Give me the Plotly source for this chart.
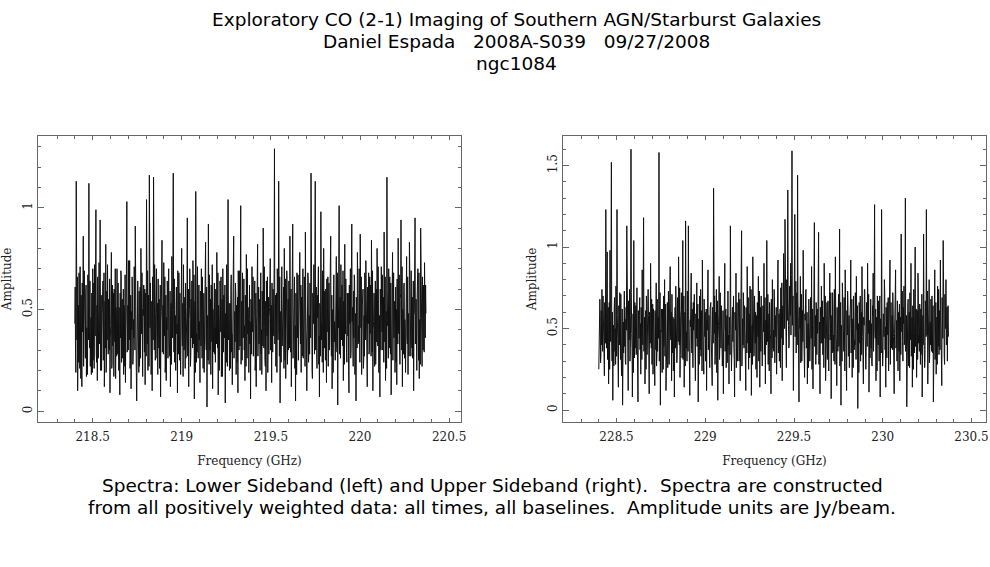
import numpy as np
import plotly.graph_objects as go

# ---- data ----
lsb_f_start, lsb_f_end = 218.40, 220.37
usb_f_start, usb_f_end = 228.40, 230.37

lsb_amp = [
    0.43,0.61, 0.28,0.19, 1.13,0.48, 0.35,0.66, 0.10,0.33, 0.52,0.24, 0.68,0.40, 0.21,0.71, 0.44,0.16, 0.57,0.36, 0.12,0.63, 0.39,0.50, 0.86,0.22, 0.47,0.69, 0.30,0.45, 0.26,0.58, 0.62,0.17, 0.41,0.30, 0.18,0.67, 0.55,0.35,
    1.12,0.42, 0.31,0.64, 0.22,0.37, 0.46,0.18, 0.58,0.55, 0.19,0.70, 0.25,0.34, 0.63,0.21, 0.72,0.47, 0.37,0.60, 0.99,0.28, 0.24,0.52, 0.15,0.66, 0.44,0.26, 0.50,0.73, 0.33,0.41, 0.94,0.20, 0.29,0.57, 0.20,0.38, 0.48,0.62,
    0.64,0.25, 0.38,0.68, 0.12,0.44, 0.54,0.31, 0.82,0.19, 0.27,0.59, 0.35,0.72, 0.49,0.28, 0.55,0.40, 0.30,0.65, 0.09,0.36, 0.42,0.53, 0.78,0.21, 0.23,0.62, 0.32,0.47, 0.58,0.17, 0.60,0.39, 0.34,0.70, 0.16,0.51, 0.45,0.27,
    0.70,0.46, 0.28,0.63, 0.40,0.20, 0.51,0.37, 0.08,0.58, 0.36,0.69, 0.66,0.24, 0.43,0.55, 0.26,0.33, 0.60,0.18, 0.52,0.48, 0.22,0.67, 0.14,0.39, 0.47,0.61, 1.03,0.29, 0.32,0.52, 0.30,0.74, 0.56,0.35, 0.74,0.21, 0.25,0.57,
    0.11,0.49, 0.40,0.66, 0.58,0.23, 0.27,0.45, 0.36,0.71, 0.53,0.30, 0.91,0.42, 0.34,0.19, 0.05,0.56, 0.44,0.64, 0.48,0.32, 0.19,0.59, 0.22,0.41, 0.61,0.26, 0.80,0.54, 0.38,0.68, 0.31,0.17, 0.50,0.47, 0.62,0.36, 0.29,0.60,
    0.13,0.58, 0.46,0.27, 1.04,0.51, 0.33,0.69, 0.20,0.38, 0.57,0.22, 1.16,0.45, 0.41,0.63, 0.42,0.18, 0.24,0.54, 0.10,0.66, 0.52,0.35, 1.15,0.48, 0.30,0.72, 0.34,0.25, 0.48,0.60, 0.70,0.39, 0.26,0.53, 0.18,0.65, 0.43,0.31,
    0.55,0.21, 0.35,0.62, 0.07,0.44, 0.49,0.68, 0.84,0.29, 0.31,0.52, 0.28,0.73, 0.56,0.37, 0.66,0.19, 0.22,0.57, 0.15,0.46, 0.40,0.64, 0.58,0.26, 0.45,0.70, 0.38,0.33, 0.27,0.59, 0.12,0.48, 0.53,0.23, 0.76,0.41, 0.36,0.67,
    1.17,0.50, 0.29,0.65, 0.24,0.36, 0.47,0.20, 0.52,0.61, 0.38,0.43, 0.09,0.69, 0.55,0.28, 0.68,0.47, 0.25,0.58, 0.33,0.18, 0.44,0.66, 0.80,0.39, 0.32,0.53, 0.17,0.72, 0.59,0.30, 0.47,0.56, 0.21,0.63, 0.26,0.34, 0.42,0.51,
    0.95,0.27, 0.37,0.60, 0.12,0.45, 0.50,0.70, 0.60,0.22, 0.28,0.55, 0.36,0.64, 0.46,0.31, 0.74,0.42, 0.33,0.67, 0.06,0.49, 0.54,0.19, 1.08,0.57, 0.24,0.38, 0.29,0.71, 0.41,0.26, 0.55,0.62, 0.35,0.44, 0.14,0.59, 0.58,0.32,
    0.70,0.43, 0.26,0.66, 0.40,0.21, 0.52,0.58, 0.19,0.48, 0.39,0.69, 0.83,0.35, 0.30,0.61, 0.02,0.40, 0.47,0.25, 0.92,0.53, 0.23,0.67, 0.30,0.37, 0.55,0.18, 0.62,0.46, 0.34,0.72, 0.11,0.50, 0.44,0.29, 0.50,0.63, 0.28,0.41,
    0.24,0.60, 0.49,0.33, 0.78,0.46, 0.31,0.68, 0.08,0.52, 0.42,0.20, 0.45,0.64, 0.58,0.39, 0.66,0.17, 0.27,0.55, 0.17,0.70, 0.51,0.29, 0.57,0.43, 0.36,0.62, 0.04,0.48, 0.45,0.24, 0.72,0.57, 0.22,0.66, 1.04,0.35, 0.38,0.53,
    0.20,0.44, 0.53,0.21, 0.61,0.67, 0.29,0.38, 0.13,0.59, 0.46,0.72, 0.86,0.26, 0.35,0.49, 0.34,0.63, 0.57,0.18, 0.52,0.41, 0.24,0.56, 0.09,0.69, 0.43,0.30, 0.69,0.47, 0.32,0.61, 1.01,0.23, 0.40,0.54, 0.25,0.68, 0.56,0.36,
    0.48,0.65, 0.30,0.42, 0.15,0.57, 0.50,0.22, 0.77,0.39, 0.26,0.70, 0.38,0.51, 0.45,0.19, 0.58,0.62, 0.33,0.44, 0.06,0.55, 0.52,0.28, 0.71,0.46, 0.39,0.66, 0.27,0.35, 0.60,0.53, 0.64,0.20, 0.23,0.58, 0.12,0.43, 0.47,0.69,
    0.82,0.27, 0.36,0.61, 0.33,0.45, 0.55,0.20, 0.54,0.68, 0.28,0.40, 0.18,0.59, 0.48,0.32, 0.90,0.49, 0.31,0.71, 0.41,0.25, 0.22,0.54, 0.10,0.64, 0.57,0.37, 0.66,0.19, 0.40,0.56, 0.28,0.46, 0.51,0.67, 0.75,0.30, 0.34,0.52,
    0.14,0.63, 0.45,0.29, 0.60,0.50, 0.37,0.70, 1.29,0.33, 0.42,0.57, 0.22,0.45, 0.58,0.19, 0.70,0.62, 0.35,0.41, 1.13,0.54, 0.27,0.66, 0.04,0.38, 0.49,0.24, 0.55,0.71, 0.32,0.47, 0.36,0.58, 0.61,0.21, 0.80,0.44, 0.25,0.65,
    0.16,0.40, 0.52,0.69, 0.63,0.23, 0.34,0.55, 0.30,0.64, 0.47,0.31, 0.86,0.48, 0.29,0.60, 0.12,0.37, 0.56,0.72, 0.92,0.26, 0.38,0.51, 0.44,0.66, 0.21,0.42, 0.05,0.58, 0.43,0.18, 0.68,0.49, 0.36,0.67, 0.25,0.33, 0.54,0.61,
    0.78,0.45, 0.33,0.62, 0.19,0.56, 0.48,0.27, 0.57,0.70, 0.26,0.39, 0.38,0.66, 0.59,0.22, 0.88,0.51, 0.40,0.34, 0.10,0.60, 0.45,0.68, 0.65,0.24, 0.30,0.47, 0.28,0.63, 0.53,0.36, 1.17,0.55, 0.37,0.20, 0.16,0.58, 0.50,0.43,
    0.72,0.54, 0.28,0.66, 1.13,0.30, 0.44,0.61, 0.33,0.21, 0.57,0.46, 0.60,0.71, 0.23,0.37, 0.07,0.53, 0.49,0.27, 0.98,0.64, 0.35,0.42, 0.24,0.69, 0.52,0.19, 0.80,0.48, 0.31,0.59, 0.42,0.25, 0.60,0.38, 0.14,0.65, 0.39,0.51,
    0.66,0.22, 0.45,0.63, 0.30,0.41, 0.55,0.70, 0.86,0.36, 0.27,0.57, 0.11,0.47, 0.50,0.19, 0.58,0.67, 0.34,0.44, 0.36,0.25, 0.62,0.52, 0.76,0.32, 0.29,0.68, 0.03,0.49, 0.41,0.61, 1.01,0.28, 0.37,0.56, 0.26,0.72, 0.53,0.35,
    0.62,0.46, 0.32,0.69, 0.15,0.54, 0.47,0.23, 0.82,0.40, 0.38,0.65, 0.40,0.29, 0.24,0.58, 0.55,0.37, 0.58,0.20, 0.09,0.62, 0.43,0.50, 0.70,0.26, 0.30,0.71, 0.92,0.44, 0.51,0.33, 0.22,0.59, 0.36,0.67, 0.64,0.18, 0.27,0.48,
    0.05,0.56, 0.46,0.31, 0.78,0.64, 0.33,0.42, 0.34,0.70, 0.57,0.24, 0.87,0.51, 0.41,0.66, 0.18,0.37, 0.52,0.60, 0.60,0.21, 0.25,0.47, 0.27,0.68, 0.48,0.35, 0.74,0.55, 0.35,0.19, 0.12,0.61, 0.55,0.43, 0.68,0.28, 0.30,0.66,
    0.38,0.62, 0.53,0.27, 0.84,0.45, 0.29,0.69, 0.10,0.40, 0.44,0.58, 0.57,0.22, 0.36,0.64, 0.23,0.49, 0.60,0.34, 0.80,0.55, 0.32,0.71, 0.44,0.19, 0.26,0.47, 0.07,0.60, 0.50,0.30, 0.71,0.52, 0.39,0.67, 0.30,0.41, 0.56,0.24,
    0.88,0.53, 0.34,0.66, 0.15,0.38, 0.49,0.21, 1.15,0.60, 0.42,0.44, 0.26,0.70, 0.58,0.31, 0.66,0.48, 0.28,0.63, 0.08,0.36, 0.46,0.57, 0.78,0.25, 0.37,0.68, 0.36,0.43, 0.54,0.19, 0.59,0.61, 0.24,0.50, 0.13,0.65, 0.43,0.33,
    0.85,0.41, 0.38,0.67, 0.32,0.23, 0.55,0.58, 0.94,0.35, 0.30,0.71, 0.12,0.50, 0.47,0.28, 0.62,0.63, 0.26,0.45, 0.40,0.19, 0.59,0.54, 0.76,0.37, 0.33,0.66, 0.18,0.48, 0.45,0.27, 0.83,0.60, 0.40,0.42, 0.27,0.69, 0.52,0.31,
    0.56,0.26, 0.31,0.64, 0.10,0.47, 0.48,0.70, 0.95,0.33, 0.37,0.55, 0.34,0.20, 0.57,0.61, 0.70,0.39, 0.25,0.68, 0.16,0.45, 0.44,0.23, 0.90,0.58, 0.35,0.42, 0.22,0.66, 0.53,0.30, 0.62,0.51, 0.29,0.73, 0.40,0.36, 0.62,0.48,
]

usb_amp = [
    0.25,0.52, 0.40,0.68, 0.58,0.29, 0.33,0.61, 0.40,0.74, 0.62,0.36, 0.70,0.49, 0.45,0.22, 0.21,0.66, 0.55,0.41, 1.23,0.57, 0.38,0.70, 0.97,0.31, 0.50,0.63, 0.16,0.46, 0.66,0.25, 0.98,0.55, 0.42,0.72, 1.52,0.39, 0.30,0.60,
    0.06,0.45, 0.52,0.27, 0.62,0.69, 0.36,0.50, 0.28,0.76, 0.57,0.33, 1.23,0.58, 0.44,0.24, 0.14,0.64, 0.60,0.40, 0.72,0.53, 0.31,0.71, 0.35,0.21, 0.48,0.62, 0.03,0.47, 0.54,0.35, 0.66,0.73, 0.39,0.56, 0.30,0.28, 0.63,0.49,
    1.13,0.60, 0.41,0.26, 0.12,0.67, 0.56,0.43, 0.74,0.30, 0.35,0.58, 1.60,0.72, 0.47,0.38, 0.08,0.55, 0.59,0.23, 1.04,0.48, 0.32,0.66, 0.38,0.51, 0.64,0.34, 0.68,0.75, 0.43,0.27, 0.05,0.61, 0.51,0.44, 0.58,0.69, 0.37,0.53,
    0.22,0.63, 0.55,0.31, 0.86,0.50, 0.40,0.71, 1.18,0.36, 0.46,0.57, 0.16,0.45, 0.61,0.25, 0.70,0.66, 0.34,0.52, 0.42,0.74, 0.58,0.29, 0.10,0.60, 0.49,0.41, 0.90,0.55, 0.38,0.68, 0.28,0.47, 0.65,0.22, 0.62,0.59, 0.44,0.35,
    0.15,0.61, 0.50,0.37, 0.78,0.27, 0.33,0.68, 0.36,0.54, 0.57,0.44, 1.58,0.30, 0.42,0.72, 0.03,0.49, 0.48,0.62, 0.55,0.23, 0.62,0.57, 0.25,0.70, 0.39,0.46, 0.80,0.33, 0.53,0.65, 0.12,0.40, 0.45,0.58, 0.66,0.26, 0.35,0.73,
    0.40,0.28, 0.59,0.66, 0.88,0.45, 0.43,0.60, 0.18,0.71, 0.52,0.35, 0.57,0.24, 0.36,0.56, 0.08,0.48, 0.63,0.38, 0.76,0.64, 0.47,0.29, 0.34,0.69, 0.55,0.42, 0.94,0.53, 0.40,0.75, 0.20,0.34, 0.58,0.61, 0.72,0.46, 0.32,0.57,
    1.04,0.31, 0.44,0.70, 0.14,0.52, 0.60,0.27, 1.16,0.63, 0.38,0.48, 0.30,0.73, 0.54,0.36, 1.13,0.58, 0.46,0.22, 0.09,0.55, 0.51,0.67, 0.84,0.40, 0.35,0.62, 0.42,0.26, 0.66,0.49, 0.64,0.71, 0.41,0.33, 0.18,0.59, 0.57,0.44,
    0.78,0.39, 0.48,0.65, 0.05,0.42, 0.56,0.28, 0.70,0.57, 0.37,0.74, 0.33,0.50, 0.61,0.24, 0.92,0.60, 0.43,0.35, 0.22,0.68, 0.53,0.45, 0.60,0.30, 0.34,0.62, 0.12,0.55, 0.49,0.71, 0.86,0.37, 0.45,0.58, 0.38,0.26, 0.62,0.66,
    0.66,0.47, 0.39,0.25, 0.15,0.63, 0.55,0.41, 1.36,0.56, 0.47,0.70, 0.28,0.33, 0.60,0.52, 0.74,0.23, 0.36,0.67, 0.06,0.44, 0.52,0.59, 0.82,0.31, 0.42,0.72, 0.44,0.38, 0.64,0.54, 0.58,0.27, 0.33,0.61, 0.10,0.48, 0.50,0.69,
    0.90,0.36, 0.45,0.62, 0.26,0.51, 0.58,0.29, 0.68,0.73, 0.40,0.46, 0.16,0.57, 0.53,0.34, 1.13,0.65, 0.47,0.24, 0.35,0.55, 0.63,0.42, 0.62,0.70, 0.38,0.31, 0.08,0.60, 0.56,0.49, 0.84,0.26, 0.43,0.66, 0.30,0.40, 0.61,0.53,
    0.72,0.30, 0.49,0.68, 0.18,0.44, 0.57,0.61, 1.10,0.27, 0.36,0.56, 0.40,0.72, 0.62,0.38, 0.64,0.50, 0.44,0.23, 0.12,0.63, 0.54,0.35, 0.88,0.47, 0.41,0.69, 0.25,0.58, 0.59,0.32, 0.76,0.54, 0.35,0.74, 0.09,0.43, 0.52,0.28,
    0.94,0.62, 0.46,0.33, 0.34,0.70, 0.60,0.41, 0.60,0.25, 0.39,0.58, 0.20,0.66, 0.55,0.45, 0.82,0.30, 0.48,0.73, 0.14,0.52, 0.63,0.36, 0.70,0.60, 0.37,0.27, 0.43,0.64, 0.57,0.48, 0.90,0.34, 0.44,0.69, 0.16,0.55, 0.51,0.40,
    1.04,0.53, 0.42,0.71, 0.28,0.37, 0.59,0.24, 0.66,0.61, 0.47,0.43, 0.10,0.68, 0.54,0.32, 0.80,0.57, 0.38,0.49, 0.36,0.74, 0.65,0.29, 0.58,0.52, 0.45,0.63, 0.22,0.40, 0.56,0.70, 0.92,0.35, 0.40,0.59, 0.30,0.46, 0.62,0.26,
    0.75,0.44, 0.55,0.78, 0.18,0.60, 0.64,0.40, 0.96,0.72, 0.58,0.50, 1.17,0.65, 0.70,0.42, 0.26,0.80, 0.62,0.55, 1.35,0.68, 0.52,0.38, 0.40,0.76, 0.74,0.58, 0.90,0.46, 0.60,0.83, 1.59,0.52, 0.68,0.70, 0.12,0.48, 0.57,0.74,
    1.20,0.45, 0.66,0.79, 0.35,0.56, 0.72,0.40, 1.44,0.68, 0.58,0.36, 0.05,0.62, 0.63,0.50, 0.82,0.29, 0.48,0.71, 0.30,0.55, 0.61,0.42, 0.98,0.65, 0.44,0.33, 0.20,0.59, 0.55,0.72, 0.74,0.38, 0.40,0.60, 0.16,0.47, 0.53,0.26,
    0.68,0.57, 0.46,0.30, 0.40,0.69, 0.59,0.44, 0.88,0.25, 0.37,0.62, 0.13,0.51, 0.52,0.73, 1.15,0.39, 0.43,0.58, 0.28,0.66, 0.60,0.34, 0.62,0.47, 0.49,0.71, 1.09,0.28, 0.35,0.54, 0.10,0.63, 0.56,0.41, 0.76,0.52, 0.41,0.67,
    0.34,0.48, 0.57,0.26, 0.90,0.62, 0.44,0.70, 0.18,0.39, 0.61,0.53, 0.66,0.31, 0.38,0.67, 0.42,0.24, 0.54,0.59, 0.84,0.43, 0.47,0.72, 0.07,0.50, 0.58,0.35, 0.72,0.64, 0.36,0.46, 0.30,0.74, 0.63,0.28, 0.94,0.56, 0.45,0.40,
    0.15,0.63, 0.50,0.36, 0.60,0.71, 0.39,0.45, 1.11,0.27, 0.55,0.66, 0.03,0.52, 0.48,0.30, 0.78,0.57, 0.62,0.41, 0.36,0.69, 0.43,0.24, 0.86,0.54, 0.57,0.38, 0.12,0.61, 0.46,0.73, 0.64,0.33, 0.34,0.58, 0.26,0.47, 0.59,0.65,
    0.92,0.35, 0.44,0.68, 0.20,0.50, 0.56,0.26, 0.70,0.61, 0.37,0.43, 0.40,0.72, 0.63,0.31, 0.82,0.55, 0.49,0.64, 0.01,0.40, 0.53,0.23, 0.66,0.59, 0.41,0.70, 0.30,0.46, 0.60,0.34, 0.88,0.62, 0.45,0.29, 0.16,0.57, 0.52,0.74,
    0.74,0.48, 0.42,0.25, 0.36,0.66, 0.58,0.39, 0.90,0.60, 0.47,0.71, 0.11,0.44, 0.55,0.32, 0.62,0.68, 0.38,0.53, 0.28,0.27, 0.64,0.58, 0.84,0.36, 0.50,0.73, 1.26,0.49, 0.44,0.62, 0.18,0.41, 0.57,0.24, 0.70,0.55, 0.40,0.67,
    0.44,0.30, 0.61,0.70, 0.08,0.56, 0.49,0.35, 1.23,0.64, 0.43,0.27, 0.34,0.59, 0.56,0.45, 0.80,0.72, 0.37,0.51, 0.14,0.63, 0.54,0.32, 0.66,0.48, 0.46,0.69, 0.24,0.41, 0.62,0.57, 0.92,0.28, 0.39,0.66, 0.38,0.52, 0.58,0.37,
    0.72,0.62, 0.45,0.29, 0.10,0.47, 0.53,0.71, 0.86,0.38, 0.40,0.55, 0.30,0.67, 0.60,0.24, 0.60,0.49, 0.36,0.65, 0.18,0.42, 0.57,0.34, 1.08,0.61, 0.48,0.73, 0.42,0.30, 0.63,0.53, 0.76,0.40, 0.44,0.68, 1.30,0.36, 0.51,0.58,
    0.02,0.50, 0.47,0.66, 0.68,0.27, 0.38,0.60, 0.26,0.72, 0.59,0.43, 0.90,0.33, 0.43,0.57, 0.14,0.64, 0.55,0.25, 0.74,0.48, 0.35,0.69, 1.00,0.39, 0.52,0.62, 0.20,0.54, 0.61,0.31, 0.84,0.70, 0.41,0.46, 0.36,0.65, 0.56,0.28,
    0.62,0.34, 0.44,0.71, 0.08,0.52, 0.58,0.40, 1.08,0.63, 0.37,0.26, 0.30,0.67, 0.62,0.45, 1.23,0.57, 0.46,0.73, 0.16,0.38, 0.53,0.60, 0.80,0.29, 0.40,0.54, 0.40,0.68, 0.59,0.36, 0.70,0.49, 0.35,0.64, 0.05,0.42, 0.51,0.70,
    0.86,0.31, 0.43,0.66, 0.22,0.55, 0.57,0.28, 0.76,0.62, 0.39,0.74, 0.34,0.47, 0.61,0.37, 0.92,0.58, 0.46,0.25, 0.15,0.69, 0.54,0.44, 1.04,0.60, 0.38,0.33, 0.28,0.71, 0.60,0.50, 0.80,0.40, 0.42,0.63, 0.30,0.54, 0.64,0.45,
]

lsb_freq = np.linspace(lsb_f_start, lsb_f_end, len(lsb_amp))
usb_freq = np.linspace(usb_f_start, usb_f_end, len(usb_amp))

title_lines = [
    "Exploratory CO (2-1) Imaging of Southern AGN/Starburst Galaxies",
    "Daniel Espada\u00a0\u00a0\u00a02008A-S039\u00a0\u00a0\u00a009/27/2008",
    "ngc1084",
]
caption_lines = [
    "Spectra: Lower Sideband (left) and Upper Sideband (right).\u00a0\u00a0Spectra are constructed",
    "from all positively weighted data: all times, all baselines.\u00a0\u00a0Amplitude units are Jy/beam.",
]

# ---- figure ----
W, H = 990, 567
fig = go.Figure()
line_style = dict(color="#111111", width=1)
fig.add_trace(go.Scatter(x=lsb_freq, y=lsb_amp, mode="lines", line=line_style,
                         xaxis="x", yaxis="y", showlegend=False, hoverinfo="skip"))
fig.add_trace(go.Scatter(x=usb_freq, y=usb_amp, mode="lines", line=line_style,
                         xaxis="x2", yaxis="y2", showlegend=False, hoverinfo="skip"))

tick_font = dict(family="DejaVu Serif", size=12, color="#222222")
title_font = dict(family="DejaVu Serif", size=12, color="#222222")
frame = "#666666"

def px_x(a, b):
    return [a / W, b / W]

def px_y(top, bottom):
    return [1 - bottom / H, 1 - top / H]

def xax(domain, rng, anchor):
    return dict(domain=domain, range=rng, anchor=anchor, automargin=False,
                showline=True, linecolor=frame, linewidth=1, mirror="ticks",
                ticks="inside", ticklen=4, tickcolor=frame, dtick=0.5, tick0=0,
                minor=dict(ticks="inside", ticklen=3, dtick=0.1, tickcolor=frame),
                showgrid=False, zeroline=False, tickfont=tick_font, ticklabelstandoff=3,
                title=dict(text="Frequency (GHz)", font=title_font, standoff=13))

def yax(domain, rng, anchor):
    return dict(domain=domain, range=rng, anchor=anchor, automargin=False,
                showline=True, linecolor=frame, linewidth=1, mirror="ticks",
                ticks="inside", ticklen=6, tickcolor=frame, dtick=0.5, tick0=0,
                minor=dict(ticks="inside", ticklen=3, dtick=0.1, tickcolor=frame),
                showgrid=False, zeroline=False, tickfont=tick_font, tickangle=-90,
                ticklabelstandoff=1,
                title=dict(text="Amplitude", font=title_font, standoff=6))

ydom = px_y(135.5, 422.3)
fig.update_layout(
    width=W, height=H,
    margin=dict(l=0, r=0, t=0, b=0, autoexpand=False),
    paper_bgcolor="white", plot_bgcolor="white",
    xaxis=xax(px_x(38.3, 460.7), [218.195, 220.565], "y"),
    yaxis=yax(ydom, [-0.055, 1.355], "x"),
    xaxis2=xax(px_x(563.3, 985.7), [228.2, 230.58], "y2"),
    yaxis2=yax(ydom, [-0.075, 1.684], "x2"),
)

ann = []
text_font = dict(family="DejaVu Sans", size=18.5, color="black")
for txt, yc in zip(title_lines, [19, 41.5, 63.5]):
    ann.append(dict(text=txt, x=516 / W, y=1 - yc / H, xref="paper", yref="paper",
                    xanchor="center", yanchor="middle", showarrow=False, font=text_font))
for txt, yc in zip(caption_lines, [485.5, 507.5]):
    ann.append(dict(text=txt, x=492 / W, y=1 - yc / H, xref="paper", yref="paper",
                    xanchor="center", yanchor="middle", showarrow=False, font=text_font))
fig.update_layout(annotations=ann)

# remove the browser's default 8px body margin so the figure fills the window exactly
fig.write_html("out.html",
               config={"displayModeBar": False, "staticPlot": True},
               post_script="document.body.style.margin='0px';document.body.style.overflow='hidden';")
